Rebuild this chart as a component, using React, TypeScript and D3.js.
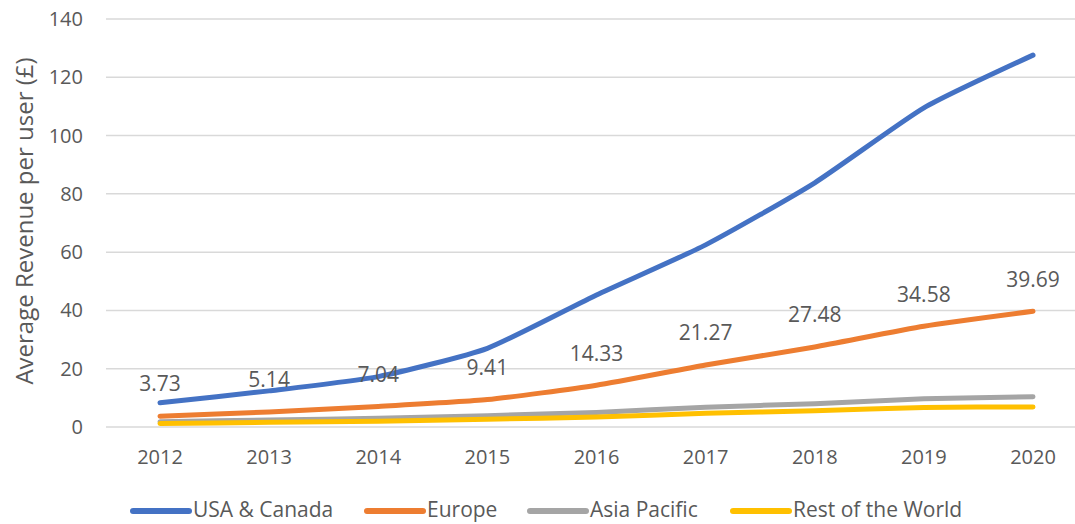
import React from "react";
import * as d3 from "d3";

const years = ["2012", "2013", "2014", "2015", "2016", "2017", "2018", "2019", "2020"];
const usaCanada = [8.3, 12.4, 17.3, 27.0, 45.3, 62.5, 83.8, 109.5, 127.6];
const europe = [3.73, 5.14, 7.04, 9.41, 14.33, 21.27, 27.48, 34.58, 39.69];
const asiaPacific = [1.8, 2.4, 3.0, 3.9, 5.0, 6.8, 8.0, 9.7, 10.4];
const restOfWorld = [1.2, 1.6, 2.0, 2.7, 3.4, 4.7, 5.6, 6.7, 6.9];
const yTicks = [0, 20, 40, 60, 80, 100, 120, 140];
const seriesNames = ["USA & Canada", "Europe", "Asia Pacific", "Rest of the World"];
const seriesColors = ["#4472C4", "#ED7D31", "#A5A5A5", "#FFC000"];

const W = 1075;
const H = 524;
const FONT = "'Open Sans', 'Noto Sans', sans-serif";
const TEXT = "#595959";

export default function App() {
  const x = d3.scalePoint<string>().domain(years).range([160, 1033]);
  const y = d3.scaleLinear().domain([0, 140]).range([427, 19]);
  const series = [usaCanada, europe, asiaPacific, restOfWorld];
  const line = d3
    .line<number>()
    .x((_, i) => x(years[i]) as number)
    .y((d) => y(d))
    .curve(d3.curveCardinal.tension(0.45));

  const legendX = [133, 367, 530, 733];
  const legendY = 510;

  return (
    <svg
      width={W}
      height={H}
      style={{ position: "absolute", left: 0, top: 0, background: "#fff" }}
      fontFamily={FONT}
    >
      {yTicks.map((t) => (
        <g key={t}>
          <line x1={106} x2={W} y1={y(t)} y2={y(t)} stroke="#D9D9D9" strokeWidth={1.5} />
          <text x={83} y={y(t)} dy="0.35em" textAnchor="end" fontSize={20} fill={TEXT}>
            {t}
          </text>
        </g>
      ))}
      {years.map((yr) => (
        <text key={yr} x={x(yr)} y={457} dy="0.35em" textAnchor="middle" fontSize={20} fill={TEXT}>
          {yr}
        </text>
      ))}
      <text
        transform={`translate(25,${y(70) - 2}) rotate(-90)`}
        textAnchor="middle"
        dy="0.35em"
        fontSize={24}
        fill={TEXT}
      >
        Average Revenue per user (£)
      </text>
      {series.map((s, i) => (
        <path
          key={seriesNames[i]}
          d={line(s) as string}
          fill="none"
          stroke={seriesColors[i]}
          strokeWidth={5}
          strokeLinecap="round"
          strokeLinejoin="round"
        />
      ))}
      {europe.map((v, i) => (
        <text
          key={years[i]}
          x={x(years[i])}
          y={y(v) - 32}
          dy="0.35em"
          textAnchor="middle"
          fontSize={21}
          fill={TEXT}
        >
          {v.toFixed(2)}
        </text>
      ))}
      {seriesNames.map((n, i) => (
        <g key={n}>
          <line
            x1={legendX[i]}
            x2={legendX[i] + 56}
            y1={legendY + 1}
            y2={legendY + 1}
            stroke={seriesColors[i]}
            strokeWidth={6}
            strokeLinecap="round"
          />
          <text x={legendX[i] + 60} y={legendY} dy="0.35em" fontSize={21} fill={TEXT}>
            {n}
          </text>
        </g>
      ))}
    </svg>
  );
}
